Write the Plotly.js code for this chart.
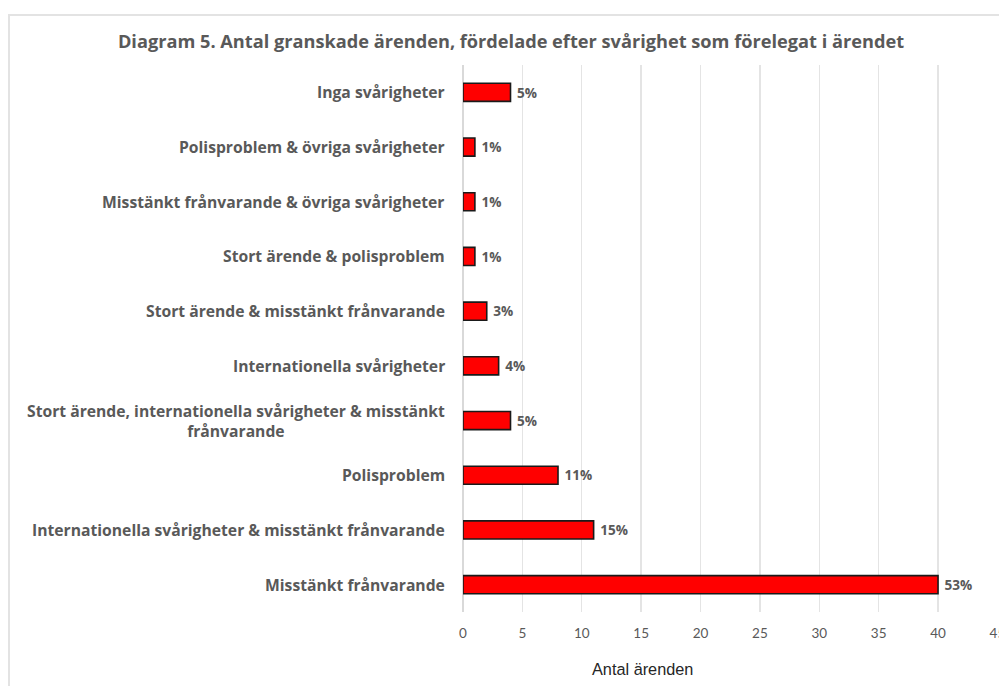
<!DOCTYPE html>
<html>
<head>
<meta charset="utf-8">
<script src="https://cdn.plot.ly/plotly-3.0.1.min.js"></script>
<style>
html,body{margin:0;padding:0;background:#fff;overflow:hidden;}
#wrap{position:relative;width:999px;height:686px;}
#chart{position:absolute;left:0;top:0;width:999px;height:686px;}
#frame{position:absolute;left:8px;top:14px;width:1200px;height:1000px;border:2px solid #e3e3e3;box-sizing:border-box;pointer-events:none;}
</style>
</head>
<body>
<div id="wrap"><div id="chart"></div><div id="frame"></div></div>
<script>
// Categories, top to bottom as in the reference
var categories = [
  "Inga svårigheter",
  "Polisproblem & övriga svårigheter",
  "Misstänkt frånvarande & övriga svårigheter",
  "Stort ärende & polisproblem",
  "Stort ärende & misstänkt frånvarande",
  "Internationella svårigheter",
  "Stort ärende, internationella svårigheter & misstänkt<br>frånvarande",
  "Polisproblem",
  "Internationella svårigheter & misstänkt frånvarande",
  "Misstänkt frånvarande"
];
var counts = [4, 1, 1, 1, 2, 3, 4, 8, 11, 40];
var percentLabels = ["5%", "1%", "1%", "1%", "3%", "4%", "5%", "11%", "15%", "53%"];
var xTicks = [0, 5, 10, 15, 20, 25, 30, 35, 40, 45];

var grey = "#595959";
var labelFont = {family: "'Open Sans', sans-serif", size: 15.7, color: grey, weight: 700};

var trace = {
  type: "bar",
  orientation: "h",
  x: counts,
  y: categories,
  text: percentLabels,
  texttemplate: "\u00a0%{text}",
  textposition: "outside",
  cliponaxis: false,
  textfont: {family: "'Open Sans', sans-serif", size: 14.3, color: grey, weight: 700},
  marker: {color: "#ff0000", line: {color: "#1a1a1a", width: 1.6}},
  width: 0.33,
  hoverinfo: "none"
};

var annotations = categories.map(function (c) {
  return {
    xref: "paper", yref: "y", x: -0.030, y: c,
    xanchor: "right", yanchor: "middle", align: "center",
    text: c, showarrow: false, font: labelFont
  };
});
annotations.push({
  xref: "paper", yref: "paper", x: 0.3364, y: -0.104,
  xanchor: "center", yanchor: "middle",
  text: "Antal ärenden", showarrow: false,
  font: {family: "'Liberation Sans', Arial, sans-serif", size: 16.3, color: "#262626"}
});

var layout = {
  width: 999, height: 686,
  margin: {l: 463, r: 0.9, t: 65, b: 74, pad: 0},
  paper_bgcolor: "#ffffff", plot_bgcolor: "#ffffff",
  showlegend: false,
  title: {
    text: "Diagram 5. Antal granskade ärenden, fördelade efter svårighet som förelegat i ärendet",
    font: {family: "'Open Sans', sans-serif", size: 18.2, color: grey, weight: 700},
    x: 0.5115, xref: "container", xanchor: "center",
    y: 0.94, yref: "container", yanchor: "middle"
  },
  xaxis: {
    range: [0, 45.05], tickvals: xTicks, ticktext: xTicks.map(String),
    showgrid: true, gridcolor: "#e4e4e4", gridwidth: 1.3,
    zeroline: true, zerolinecolor: "#d9d9d9", zerolinewidth: 1.3,
    showline: false, ticks: "", ticklabelstandoff: 11,
    ticklabeloverflow: "allow",
    tickfont: {family: "Lato, sans-serif", size: 13.5, color: grey},
    fixedrange: true
  },
  yaxis: {
    type: "category", autorange: "reversed",
    showticklabels: false, showgrid: false, zeroline: false, showline: false, ticks: "",
    fixedrange: true
  },
  annotations: annotations
};

Plotly.newPlot("chart", [trace], layout, {displayModeBar: false, staticPlot: true});
</script>
</body>
</html>
